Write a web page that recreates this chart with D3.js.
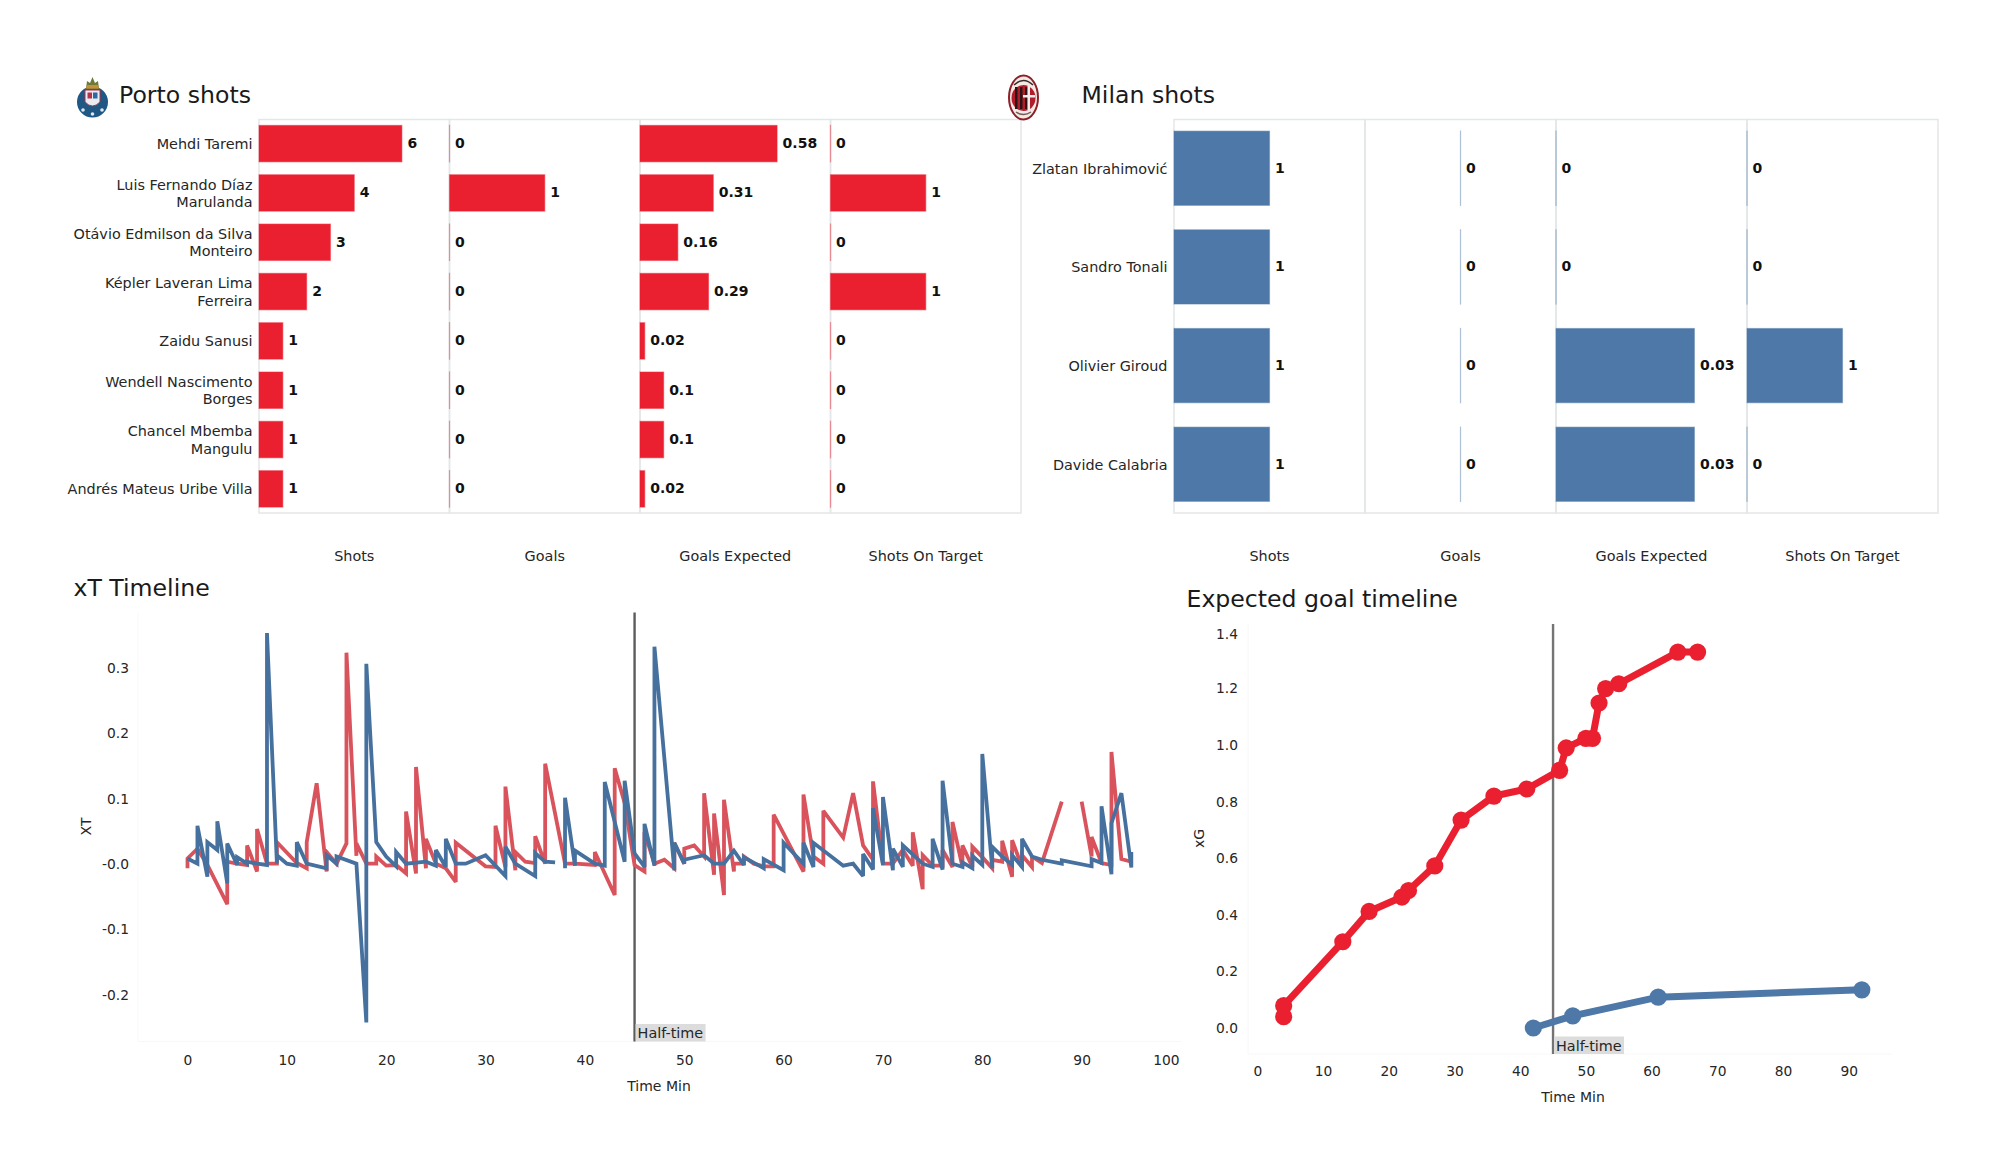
<!DOCTYPE html>
<html lang="en">
<head>
<meta charset="UTF-8">
<title>Porto v Milan</title>
<style>
    body { margin: 0; background: #fff; }
    svg { display: block; }
    text { font-family: 'DejaVu Sans', sans-serif; fill: #1a1a1a; }
    .title { font-size: 23.6px; }
    .name { font-size: 14.4px; fill: #262626; }
    .val { font-size: 14px; font-weight: bold; fill: #111; }
    .axis text { font-size: 13.8px; fill: #262626; }
    .axis-title { font-size: 14px; fill: #262626; }
</style>
<script src="https://d3js.org/d3.v7.min.js"></script>
</head>
<body>
<svg id="chart" width="2000" height="1175"></svg>
<script>
const statNames = ["Shots", "Goals", "Goals Expected", "Shots On Target"];

const portoPlayers = [
    ["Mehdi Taremi"],
    ["Luis Fernando Díaz", "Marulanda"],
    ["Otávio Edmilson da Silva", "Monteiro"],
    ["Képler Laveran Lima", "Ferreira"],
    ["Zaidu Sanusi"],
    ["Wendell Nascimento", "Borges"],
    ["Chancel Mbemba", "Mangulu"],
    ["Andrés Mateus Uribe Villa"]
];
const portoShots = [6, 4, 3, 2, 1, 1, 1, 1];
const portoGoals = [0, 1, 0, 0, 0, 0, 0, 0];
const portoXg = [0.58, 0.31, 0.16, 0.29, 0.02, 0.1, 0.1, 0.02];
const portoOnTarget = [0, 1, 0, 1, 0, 0, 0, 0];

const milanPlayers = [["Zlatan Ibrahimović"], ["Sandro Tonali"], ["Olivier Giroud"], ["Davide Calabria"]];
const milanShots = [1, 1, 1, 1];
const milanGoals = [0, 0, 0, 0];
const milanXg = [0, 0, 0.03, 0.03];
const milanOnTarget = [0, 0, 1, 0];

// xT per event, null = break in the line
const portoXtMin = [0,0,1,2,4,4,5,6,6,7,7,8,9,9,11,12,12,13,14,14,15,16,16,17,17,18,19,19,20,21,22,22,23,23,24,24,25,26,27,27,30,31,31,32,32,33,33,34,35,35,36,36,38,39,41,41,43,43,44,45,46,46,47,48,49,49,50,50,51,52,52,53,53,54,54,55,55,56,56,57,58,59,59,62,62,63,64,64,66,67,68,69,69,70,71,72,73,73,74,74,75,76,76,77,77,78,78,79,79,80,81,81,82,82,83,83,84,84,85,85,86,88,null,90,91,91,92,93,93,94,95];
const portoXtVal = [-0.005,0.01,0.025,0,-0.06,0.005,0.002,0,0.03,-0.01,0.055,0.002,0.002,0.035,0.003,-0.005,0.035,0.125,-0.01,0.02,0.002,0.033,0.325,0.014,0.033,0.002,0.002,0.013,-0.001,0,-0.013,0.082,-0.013,0.15,-0.005,0.04,0.002,-0.005,-0.026,0.034,-0.002,-0.003,0.06,-0.003,0.12,-0.008,0.02,0.005,0.003,0.044,0.002,0.155,0.002,0.002,0,0.02,-0.046,0.148,0.095,0,-0.01,0.05,0.002,0.008,-0.005,0.034,0.002,0.025,0.03,0.013,0.11,-0.015,0.079,-0.046,0.1,-0.01,0.002,0.002,0.013,0.002,-0.002,-0.002,0.077,-0.01,0.108,0.013,0.002,0.083,0.042,0.11,0.03,0.008,0.128,0.002,0.002,0.023,-0.001,0.05,-0.037,0.015,-0.001,-0.001,0.023,-0.003,0.066,-0.003,0.03,-0.003,0.028,0.012,-0.005,0.008,0.005,0.037,-0.018,0.038,-0.003,0.015,-0.003,0.013,0.003,0.097,null,0.097,0.013,0.043,0.003,0,0.173,0.009,0.005];
const milanXtMin = [0,1,1,2,2,3,3,4,4,5,5,6,6,7,8,8,9,9,10,11,11,12,14,14,15,15,17,18,18,19,20,21,21,22,24,25,25,26,26,27,28,30,32,32,33,35,35,36,37,null,38,38,39,39,41,42,42,44,44,45,46,46,47,47,49,49,50,50,52,53,54,55,56,56,58,58,60,60,62,62,63,63,66,67,68,68,69,69,70,70,71,71,72,72,74,75,75,76,76,77,78,78,79,79,80,80,81,81,82,83,83,84,84,85,86,88,88,91,91,92,92,93,93,94,95,95];
const milanXtVal = [0.01,0.002,0.06,-0.018,0.035,0.023,0.067,-0.028,0.033,0,0.012,0.002,0.005,0.002,0,0.355,0.002,0.015,0.002,-0.001,0.035,0.002,-0.005,0.015,0.002,0.013,0.002,-0.241,0.308,0.035,0.013,-0.002,0.02,0.002,0.005,-0.001,0.023,-0.003,0.04,0.002,0.002,0.015,-0.017,0.028,0.002,-0.017,0.018,0.005,0.004,null,-0.005,0.103,-0.001,0.022,0.002,-0.001,0.127,0.005,0.129,0.018,-0.003,0.063,-0.001,0.334,-0.008,0.034,0.002,0.008,0.015,0.002,0.002,0.022,0,0.012,-0.005,0.009,-0.008,0.034,0.002,0.034,-0.003,0.034,-0.001,0.002,-0.017,0.017,-0.007,0.087,0,0.104,-0.008,0.025,-0.003,0.03,0.002,-0.003,0.04,-0.007,0.129,0.002,-0.003,0.004,-0.005,0.014,0,0.17,-0.005,0.028,0.013,0,0.015,-0.003,0.04,0.013,0.008,0.002,0.007,-0.002,0.009,0.003,0.09,-0.014,0.064,0.11,-0.004,0.02];

const portoXgMin = [4, 4, 13, 17, 22, 23, 27, 31, 36, 41, 46, 47, 50, 51, 52, 53, 55, 64, 67];
const portoXgCum = [0.04, 0.079, 0.305, 0.412, 0.463, 0.486, 0.573, 0.735, 0.82, 0.845, 0.911, 0.99, 1.024, 1.024, 1.149, 1.2, 1.217, 1.329, 1.329];
const milanXgMin = [42, 48, 61, 92];
const milanXgCum = [0, 0.043, 0.109, 0.135];

const xtYTicks = [-0.2, -0.1, 0, 0.1, 0.2, 0.3];
const xtYLabels = ["-0.2", "-0.1", "-0.0", "0.1", "0.2", "0.3"];
const xtXTicks = [0, 10, 20, 30, 40, 50, 60, 70, 80, 90, 100];
const xgYTicks = [0, 0.2, 0.4, 0.6, 0.8, 1.0, 1.2, 1.4];
const xgXTicks = [0, 10, 20, 30, 40, 50, 60, 70, 80, 90];
const halfTimeMin = 45;

const RED = "#ea2030";
const BLUE = "#4d78a7";
const XT_RED = "#d9535c";
const XT_BLUE = "#46719f";
const GRID = "#e4e6e8";

const svg = d3.select("#chart");

// one row of four bar panels
function drawShotPanels(cfg) {
    const n = cfg.players.length;
    const pw = (cfg.right - cfg.left) / 4;
    const idx = d3.range(n);
    const y = d3.scaleBand().domain(idx).range([cfg.top, cfg.bottom])
        .paddingInner(cfg.padInner).paddingOuter(cfg.padOuter);

    cfg.stats.forEach(function (vals, p) {
        const x0 = cfg.left + p * pw;
        const dom = cfg.domains[p];
        const x = d3.scaleLinear().domain(dom).range([x0, x0 + pw]);
        const g = svg.append("g");

        g.append("rect").attr("x", x0).attr("y", cfg.top)
            .attr("width", pw).attr("height", cfg.bottom - cfg.top)
            .attr("fill", "none").attr("stroke", GRID).attr("stroke-width", 1.5);

        // zero bars still show their edge, so keep a sliver of width
        g.selectAll("rect.bar").data(idx).enter().append("rect")
            .attr("class", "bar")
            .attr("x", x(0))
            .attr("y", d => y(d))
            .attr("width", d => Math.max(x(vals[d]) - x(0), 0.01))
            .attr("height", y.bandwidth())
            .attr("fill", cfg.color)
            .attr("stroke", cfg.color)
            .attr("stroke-opacity", 0.45)
            .attr("stroke-width", 1.2);

        g.selectAll("text.val").data(idx).enter().append("text")
            .attr("class", "val")
            .attr("x", d => x(vals[d]) + 5.5)
            .attr("y", d => y(d) + y.bandwidth() / 2 - 0.5)
            .attr("dy", "0.35em")
            .text(d => vals[d]);

        svg.append("text").attr("class", "name")
            .attr("x", x0 + pw / 2).attr("y", 556).attr("dy", "0.35em")
            .attr("text-anchor", "middle").text(statNames[p]);
    });

    idx.forEach(function (d) {
        const lines = cfg.players[d];
        const cy = y(d) + y.bandwidth() / 2;
        lines.forEach(function (line, i) {
            svg.append("text").attr("class", "name")
                .attr("x", cfg.left - 6.5)
                .attr("y", cy + (i - (lines.length - 1) / 2) * 17.5 + 0.4)
                .attr("dy", "0.35em")
                .attr("text-anchor", "end")
                .text(line);
        });
    });
}

drawShotPanels({
    players: portoPlayers, color: RED,
    stats: [portoShots, portoGoals, portoXg, portoOnTarget],
    domains: [[0, 8], [0, 2], [0, 0.806], [0, 2]],
    left: 259, right: 1021, top: 119.5, bottom: 513,
    padInner: 0.262, padOuter: 0.12
});
drawShotPanels({
    players: milanPlayers, color: BLUE,
    stats: [milanShots, milanGoals, milanXg, milanOnTarget],
    domains: [[0, 2], [-1, 1], [0, 0.0414], [0, 2]],
    left: 1174, right: 1938, top: 119.5, bottom: 513,
    padInner: 0.248, padOuter: 0.118
});

svg.append("text").attr("class", "title").attr("x", 119).attr("y", 94.5).attr("dy", "0.35em").text("Porto shots");
svg.append("text").attr("class", "title").attr("x", 1081.5).attr("y", 94.5).attr("dy", "0.35em").text("Milan shots");
svg.append("text").attr("class", "title").attr("x", 73.5).attr("y", 588).attr("dy", "0.35em").text("xT Timeline");
svg.append("text").attr("class", "title").attr("x", 1186.5).attr("y", 599).attr("dy", "0.35em").text("Expected goal timeline");

// crests
function drawPortoCrest() {
    const g = svg.append("g");
    g.append("circle").attr("cx", 92.5).attr("cy", 102).attr("r", 15.5).attr("fill", "#1f5785");
    g.append("path").attr("d", "M85 90 h15 v12 q-7.5 8 -15 0 z").attr("fill", "#e9edf2").attr("stroke", "#a8324a").attr("stroke-width", 1);
    g.append("rect").attr("x", 87.5).attr("y", 92.5).attr("width", 4.5).attr("height", 6).attr("fill", "#b5344c");
    g.append("rect").attr("x", 93).attr("y", 92.5).attr("width", 4.5).attr("height", 6).attr("fill", "#2f69a3");
    g.append("path").attr("d", "M86 89 l1 -8 l3 2 l2.5 -6 l2.5 6 l3 -2 l1 8 z").attr("fill", "#6d7a35");
    g.append("rect").attr("x", 86.5).attr("y", 85).attr("width", 12).attr("height", 3.5).attr("fill", "#c98f3c");
    [[83, 110], [92.5, 114], [102, 110]].forEach(function (p) {
        g.append("circle").attr("cx", p[0]).attr("cy", p[1]).attr("r", 1.8).attr("fill", "#dfe8f0");
    });
}
function drawMilanCrest() {
    const g = svg.append("g");
    g.append("ellipse").attr("cx", 1023.5).attr("cy", 97.5).attr("rx", 14.5).attr("ry", 22)
        .attr("fill", "#f2e9e4").attr("stroke", "#8f2029").attr("stroke-width", 2);
    g.append("ellipse").attr("cx", 1023.5).attr("cy", 98).attr("rx", 12).attr("ry", 13).attr("fill", "#b21d2b");
    [1015, 1020, 1025].forEach(function (x) {
        g.append("rect").attr("x", x).attr("y", 87).attr("width", 2.5).attr("height", 22).attr("fill", "#2a1416");
    });
    g.append("rect").attr("x", 1027.5).attr("y", 86).attr("width", 2.5).attr("height", 24).attr("fill", "#f4eeee");
    g.append("rect").attr("x", 1023).attr("y", 95).attr("width", 12).attr("height", 2.5).attr("fill", "#f4eeee");
    g.append("path").attr("d", "M1014 85 q9.5 -9 19 0").attr("fill", "none").attr("stroke", "#3a2a2a").attr("stroke-width", 1.5);
    g.append("path").attr("d", "M1016 112 q7.5 5 15 0").attr("fill", "none").attr("stroke", "#6e5a5a").attr("stroke-width", 1.5);
}
drawPortoCrest();
drawMilanCrest();

// timeline frame: faint spines, ticks, half-time marker
function drawTimelineFrame(cfg) {
    const g = svg.append("g");
    g.append("line").attr("x1", cfg.box[0]).attr("x2", cfg.box[0]).attr("y1", cfg.box[1]).attr("y2", cfg.box[3]).attr("stroke", "#f8f8f8");
    g.append("line").attr("x1", cfg.box[0]).attr("x2", cfg.box[2]).attr("y1", cfg.box[3]).attr("y2", cfg.box[3]).attr("stroke", "#f8f8f8");

    const yAxis = d3.axisLeft(cfg.y).tickValues(cfg.yTicks).tickSize(0).tickPadding(0)
        .tickFormat(cfg.yFormat);
    const yg = svg.append("g").attr("class", "axis")
        .attr("transform", `translate(${cfg.yLabelX},${cfg.yLabelShift})`)
        .call(yAxis).call(a => a.select(".domain").remove());
    // top label is held inside the axes in the original
    yg.selectAll(".tick").filter(d => d === 1.4).select("text").attr("y", 2.5);

    const xAxis = d3.axisBottom(cfg.x).tickValues(cfg.xTicks).tickSize(0);
    const xg = svg.append("g").attr("class", "axis")
        .attr("transform", `translate(0,${cfg.xLabelY})`)
        .call(xAxis).call(a => a.select(".domain").remove());
    xg.selectAll("text").attr("y", 0).attr("dy", "0.35em");
    // last label sits against the axis end
    xg.selectAll(".tick").filter(d => d === 100).select("text")
        .attr("text-anchor", "end").attr("x", cfg.box[2] - cfg.x(100) - 2);

    svg.append("text").attr("class", "axis-title")
        .attr("x", cfg.timeX).attr("y", cfg.xLabelY + 26).attr("dy", "0.35em")
        .attr("text-anchor", "middle").text("Time Min");
    svg.append("text").attr("class", "axis-title")
        .attr("transform", `translate(${cfg.yTitle[0]},${cfg.yTitle[1]}) rotate(-90)`)
        .attr("dy", "0.35em").attr("text-anchor", "middle").text(cfg.yName);

    const hx = cfg.x(halfTimeMin);
    svg.append("line").attr("x1", hx).attr("x2", hx).attr("y1", cfg.box[1]).attr("y2", cfg.box[3])
        .attr("stroke", "#5c5c5c").attr("stroke-opacity", cfg.haltOpacity).attr("stroke-width", 2.4);
    svg.append("rect").attr("x", hx + 1).attr("y", cfg.box[3] - 17.5)
        .attr("width", 70).attr("height", 17.5).attr("fill", "#dcdcdc");
    svg.append("text").attr("class", "name").attr("x", hx + 3).attr("y", cfg.box[3] - 8.5)
        .attr("dy", "0.35em").text("Half-time");
}

const xtX = d3.scaleLinear().domain([0, 100]).range([187.5, 1181]);
const xtY = d3.scaleLinear().domain([0, 0.3]).range([865, 669]);
drawTimelineFrame({
    x: xtX, y: xtY, box: [138, 612.5, 1181, 1041.5],
    yTicks: xtYTicks, xTicks: xtXTicks,
    yFormat: (d, i) => xtYLabels[i],
    yLabelX: 129, yLabelShift: -1, xLabelY: 1060, timeX: 659,
    yTitle: [86, 826.5], yName: "XT", haltOpacity: 1
});

function drawXtLine(mins, vals, color, opacity) {
    const pts = mins.map((m, i) => [m, vals[i]]);
    const line = d3.line().defined(d => d[0] !== null)
        .x(d => xtX(d[0])).y(d => xtY(d[1]));
    svg.append("path").attr("d", line(pts))
        .attr("fill", "none").attr("stroke", color).attr("stroke-opacity", opacity)
        .attr("stroke-width", 3.8).attr("stroke-linejoin", "miter").attr("stroke-miterlimit", 3);
}
drawXtLine(portoXtMin, portoXtVal, XT_RED, 1);
drawXtLine(milanXtMin, milanXtVal, XT_BLUE, 1);

const xgX = d3.scaleLinear().domain([0, 90]).range([1257.4, 1848.7]);
const xgY = d3.scaleLinear().domain([0, 1.4]).range([1028, 632]);
drawTimelineFrame({
    x: xgX, y: xgY, box: [1248, 624, 1892, 1054],
    yTicks: xgYTicks, xTicks: xgXTicks,
    yFormat: d3.format(".1f"),
    yLabelX: 1238, yLabelShift: 0, xLabelY: 1071, timeX: 1573,
    yTitle: [1199, 838.5], yName: "xG", haltOpacity: 0.85
});

function drawXgLine(mins, vals, color) {
    const pts = mins.map((m, i) => [m, vals[i]]);
    const line = d3.line().x(d => xgX(d[0])).y(d => xgY(d[1]));
    const g = svg.append("g");
    g.append("path").attr("d", line(pts)).attr("fill", "none")
        .attr("stroke", color).attr("stroke-width", 7);
    g.selectAll("circle").data(pts).enter().append("circle")
        .attr("cx", d => xgX(d[0])).attr("cy", d => xgY(d[1]))
        .attr("r", 8.6).attr("fill", color);
}
drawXgLine(portoXgMin, portoXgCum, RED);
drawXgLine(milanXgMin, milanXgCum, BLUE);
</script>
</body>
</html>
